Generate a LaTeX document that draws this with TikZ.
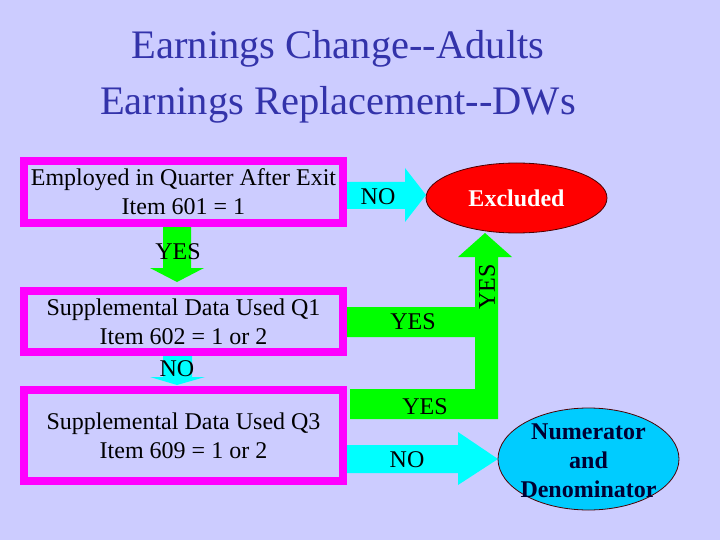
\documentclass[tikz,border=0pt]{standalone}
\usepackage{fontspec}
\setmainfont{Liberation Serif}[Ligatures=NoCommon]
\usetikzlibrary{shapes.geometric}
\definecolor{bg}{RGB}{204,204,255}
\definecolor{mag}{RGB}{255,0,255}
\definecolor{grn}{RGB}{0,255,0}
\definecolor{cyn}{RGB}{0,255,255}
\definecolor{redx}{RGB}{255,0,0}
\definecolor{numc}{RGB}{0,204,255}
\definecolor{titlec}{RGB}{51,51,170}
\begin{document}
\begin{tikzpicture}[x=1pt,y=-1pt,
  box/.style={draw=mag,line width=8pt,fill=bg,minimum width=319pt,inner sep=0pt,align=center,
    font=\fontsize{24}{29}\selectfont},
  lbl/.style={inner sep=0pt,font=\fontsize{24}{29}\selectfont},
  oval/.style={ellipse,draw=black!70!red,line width=0.8pt,inner sep=0pt},
  ovaltext/.style={inner sep=0pt,align=center,font=\fontsize{24}{29}\selectfont\bfseries}]
\fill[bg] (0,0) rectangle (720,540);
\path[use as bounding box] (0,0) rectangle (720,540);
% title
\node[titlec,align=center,font=\fontsize{40.5}{56}\selectfont] (title) at (338,77)
  {Earnings Change-{}-Adults\\Earnings Replacement-{}-DWs};
% arrows (drawn first)
\fill[grn] (163,225) -- (191,225) -- (191,268) -- (204,268) -- (177,282) -- (150,268) -- (163,268) -- cycle;
\fill[cyn] (163,354) -- (192,354) -- (192,377) -- (205,377) -- (177,385) -- (150,377) -- (163,377) -- cycle;
\fill[cyn] (345,182) -- (405,182) -- (405,168) -- (426,195) -- (405,222) -- (405,209) -- (345,209) -- cycle;
\fill[cyn] (345,445) -- (458,445) -- (458,432) -- (498,459) -- (458,485) -- (458,473) -- (345,473) -- cycle;
\fill[grn] (345,307) -- (475,307) -- (475,257) -- (458,257) -- (485,233) -- (512,257) -- (498,257)
  -- (498,419) -- (350,419) -- (350,389) -- (475,389) -- (475,337) -- (345,337) -- cycle;
% boxes
\node[box,minimum height=62pt] (b1) at (183.5,192) {Employed in Quarter After Exit\\Item 601 = 1};
\node[box,minimum height=61pt] (b2) at (183.5,321.5) {Supplemental Data Used Q1\\Item 602 = 1 or 2};
\node[box,minimum height=91pt] (b3) at (183.5,435.5) {Supplemental Data Used Q3\\Item 609 = 1 or 2};
% ovals
\node[oval,fill=redx,minimum width=181pt,minimum height=70pt] (excl) at (516.5,198) {};
\node[ovaltext,text=white] (exclt) at (excl) {Excluded};
\node[oval,fill=numc,minimum width=181pt,minimum height=102pt] (numer) at (588.5,459) {};
\node[ovaltext,text=black!80!blue] (numert) at (588.5,461) {Numerator\\and\\Denominator};
% labels
\node[lbl] (yes1) at (178,252) {YES};
\node[lbl] (no1) at (177,369) {NO};
\node[lbl] (no2) at (378,197) {NO};
\node[lbl] (yes2) at (413,322) {YES};
\node[lbl] (yes3) at (425,407) {YES};
\node[lbl] (no3) at (407,460) {NO};
\node[lbl,rotate=90] (yes4) at (487,287) {YES};
\end{tikzpicture}
\end{document}
